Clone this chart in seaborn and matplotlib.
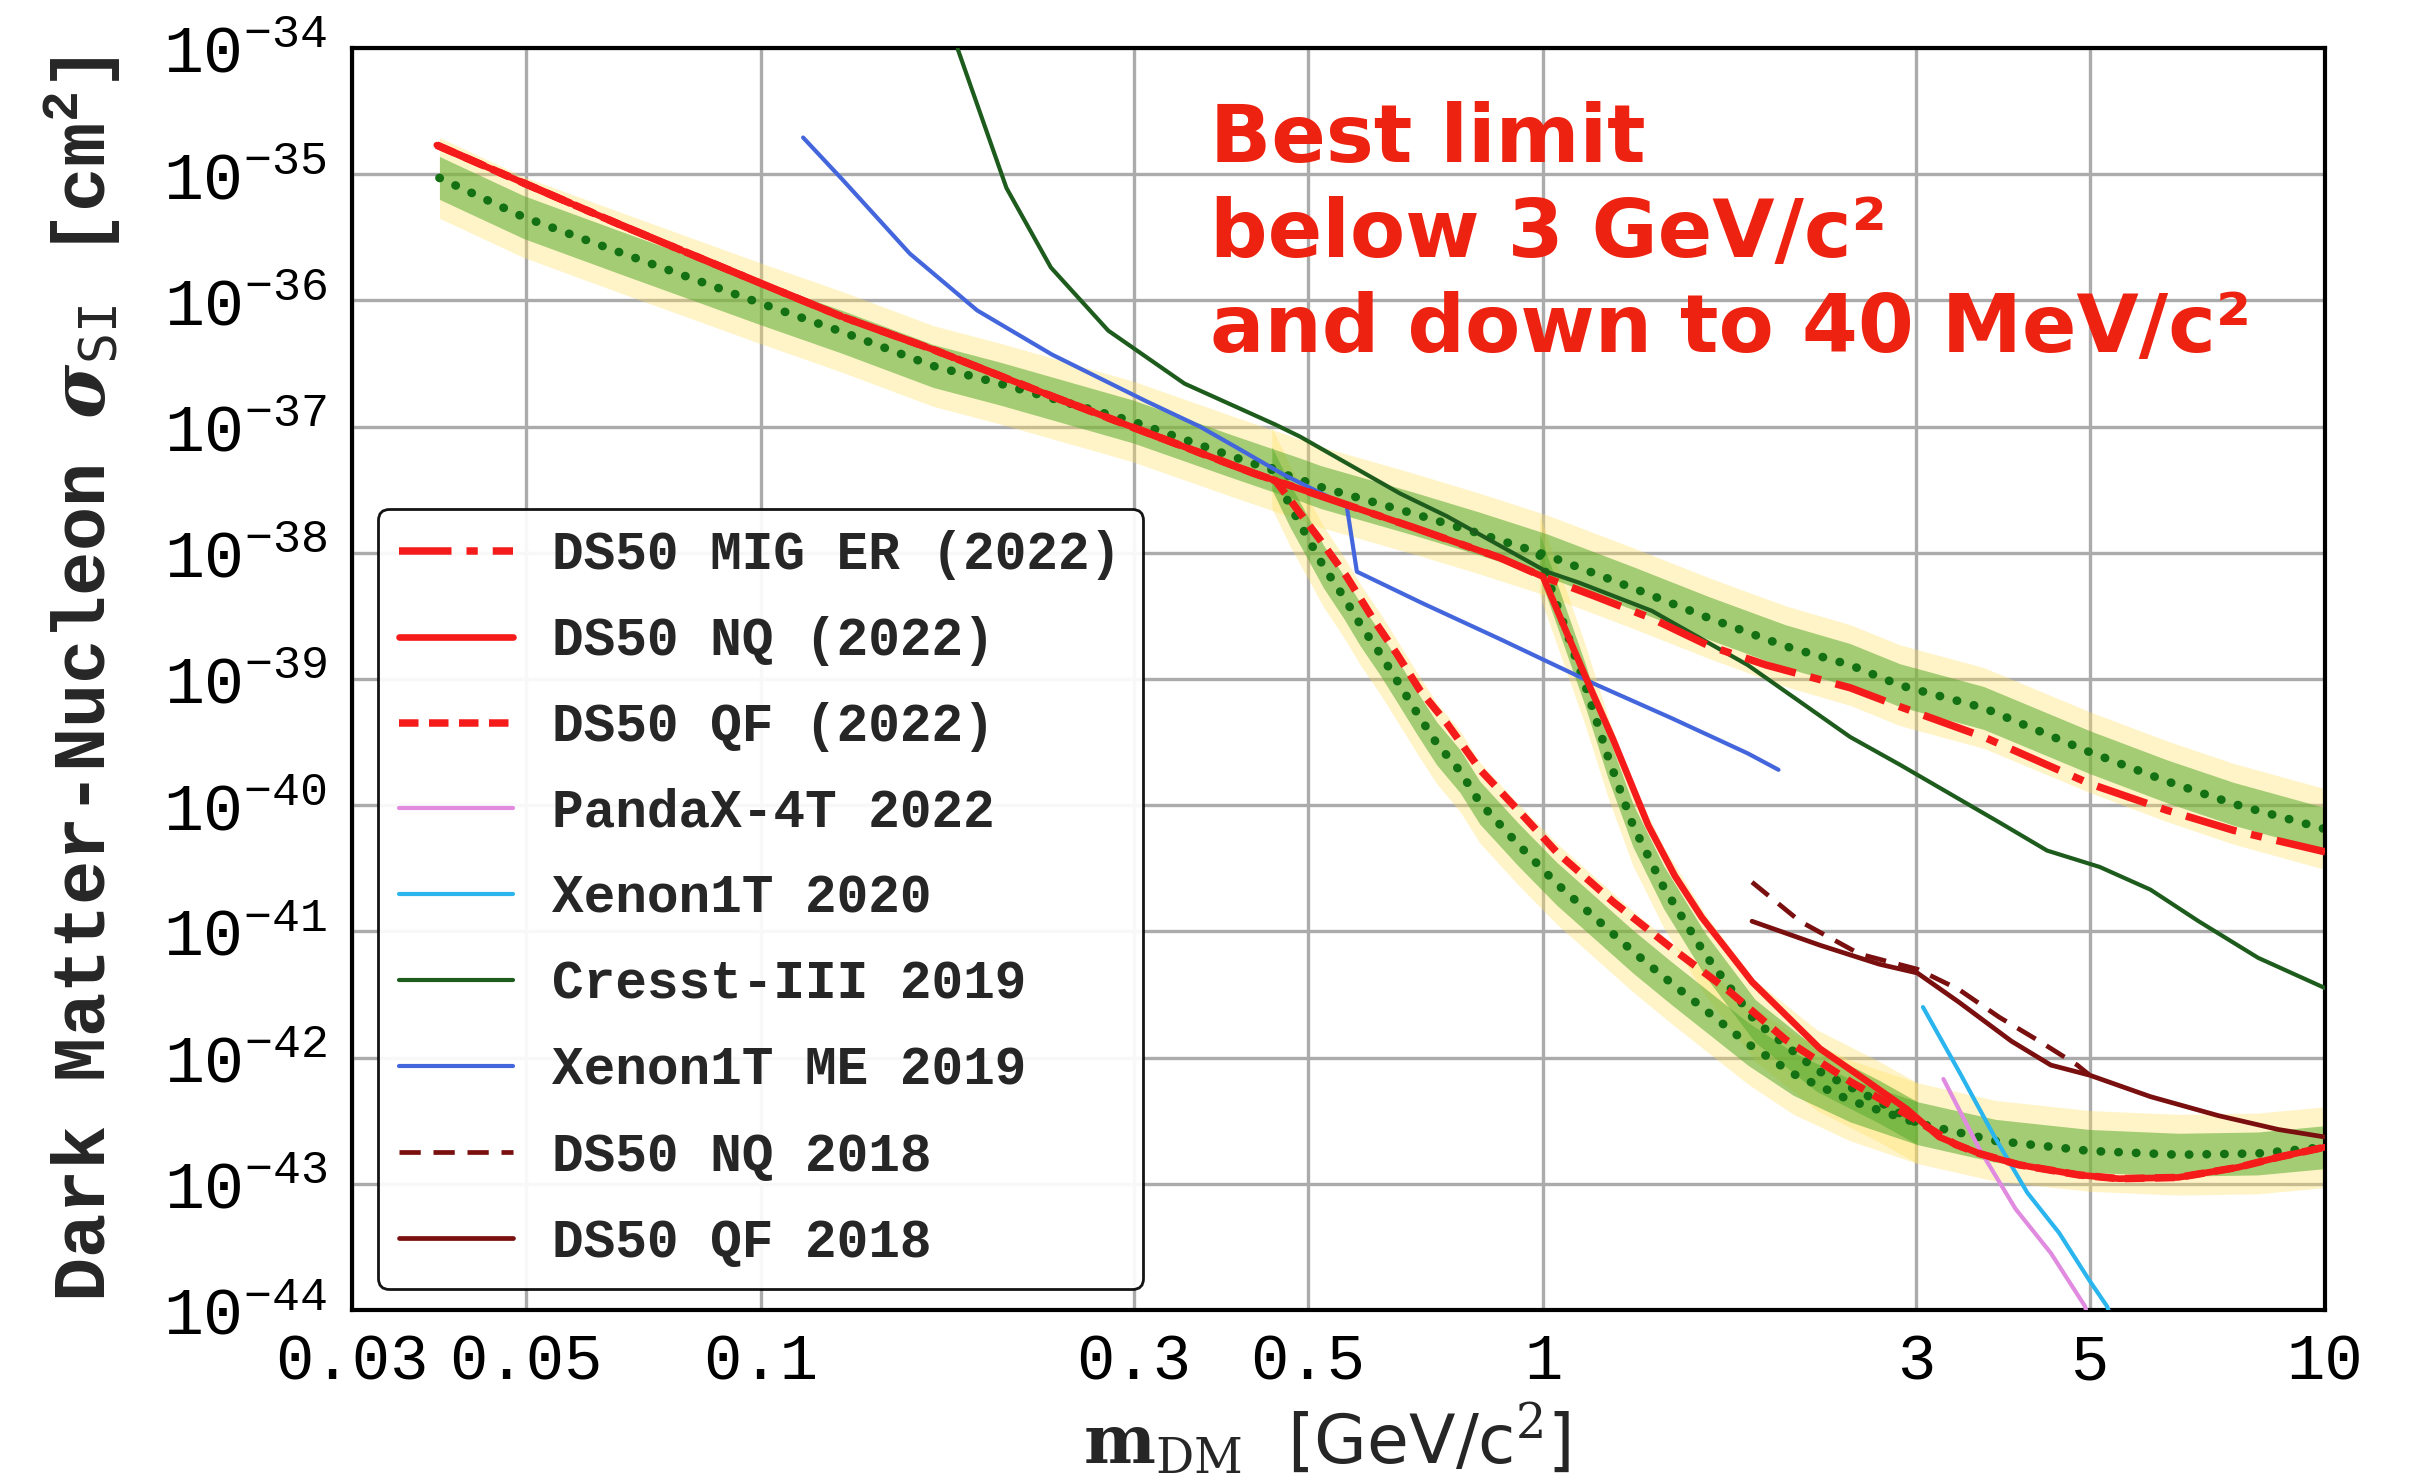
import numpy as np
import matplotlib
matplotlib.use("Agg")
from matplotlib import pyplot as plt
from matplotlib import ticker
import seaborn as sns

# masses in GeV/c^2, cross sections as log10(sigma / cm^2)

# DS50 2022 observed limits
er_mass = [0.0385, 0.0497, 0.066, 0.0995, 0.127, 0.166, 0.2355, 0.30, 0.4266, 0.561, 0.683, 0.881, 1.0,
           1.16, 1.377, 1.633, 1.93, 2.47, 2.86, 3.66, 5.0, 6.27, 7.64, 10.0]
er_logxs = [-34.77, -35.07, -35.40, -35.86, -36.13, -36.39, -36.76, -37.01, -37.37, -37.62, -37.80, -38.04, -38.19,
            -38.34, -38.52, -38.74, -38.89, -39.07, -39.22, -39.46, -39.83, -40.04, -40.20, -40.37]

nq_mass = [0.0385, 0.0497, 0.066, 0.0995, 0.127, 0.166, 0.2355, 0.30, 0.4266, 0.561, 0.683, 0.881, 1.0,
           1.063, 1.138, 1.231, 1.363, 1.474, 1.596, 1.85, 2.26, 2.60, 2.92, 3.21, 3.61, 4.06, 4.84, 5.45,
           6.49, 7.74, 8.71, 10.0]
nq_logxs = [-34.77, -35.07, -35.40, -35.86, -36.13, -36.39, -36.76, -37.01, -37.37, -37.62, -37.80, -38.04, -38.19,
            -38.58, -39.01, -39.49, -40.16, -40.56, -40.89, -41.40, -41.93, -42.19, -42.41, -42.63, -42.76, -42.85,
            -42.93, -42.96, -42.95, -42.87, -42.79, -42.71]

qf_mass = [0.0385, 0.0497, 0.066, 0.0995, 0.127, 0.166, 0.2355, 0.30, 0.4266, 0.455, 0.48, 0.519, 0.561, 0.607,
           0.650, 0.696, 0.753, 0.831, 0.929, 1.04, 1.231, 1.458, 1.726, 2.044, 2.47, 3.01, 3.37, 3.61, 4.06,
           4.84, 5.45, 6.49, 7.74, 8.71, 10.0]
qf_logxs = [-34.77, -35.07, -35.40, -35.86, -36.13, -36.39, -36.76, -37.01, -37.37, -37.43, -37.62, -37.90, -38.19,
            -38.53, -38.80, -39.09, -39.35, -39.72, -40.04, -40.37, -40.77, -41.13, -41.47, -41.86, -42.19, -42.50,
            -42.69, -42.76, -42.85, -42.93, -42.96, -42.95, -42.87, -42.79, -42.71]

# DS50 2022 expected sensitivities (median)
er_med_mass = [0.0388, 0.0497, 0.066, 0.0995, 0.127, 0.166, 0.2022, 0.299, 0.402, 0.489, 0.52, 0.683, 0.831,
               1.011, 1.303, 1.633, 2.04, 2.47, 2.86, 3.66, 5.0, 6.27, 7.64, 10.0]
er_med_logxs = [-35.03, -35.34, -35.62, -36.02, -36.25, -36.52, -36.66, -36.96, -37.24, -37.42, -37.48, -37.69,
                -37.85, -38.02, -38.28, -38.52, -38.74, -38.89, -39.05, -39.23, -39.58, -39.81, -39.99, -40.19]

nq_med_mass = [0.99, 1.016, 1.131, 1.211, 1.303, 1.426, 1.614, 1.867, 2.24, 2.69, 3.01]
nq_med_logxs = [-38.02, -38.22, -39.04, -39.62, -40.16, -40.65, -41.19, -41.71, -42.10, -42.35, -42.52]

qf_med_mass = [0.45, 0.475, 0.499, 0.524, 0.556, 0.584, 0.619, 0.653, 0.690, 0.731, 0.783, 0.830, 0.929, 1.04,
               1.164, 1.303, 1.459, 1.633, 1.827, 2.09, 2.47, 3.01, 3.79, 5.0, 6.49, 8.2, 10.0]
qf_med_logxs = [-37.33, -37.63, -37.87, -38.11, -38.35, -38.57, -38.80, -39.03, -39.27, -39.51, -39.73, -39.98,
                -40.31, -40.62, -40.89, -41.16, -41.41, -41.65, -41.89, -42.13, -42.34, -42.52, -42.66, -42.74,
                -42.77, -42.76, -42.71]

# half widths of the 1 sigma / 2 sigma bands (decades)
one_sigma_dex = 0.17
two_sigma_dex = 0.32

# other experiments
pandax_mass = [3.25, 3.61, 4.02, 4.46, 4.93, 4.97]
pandax_logxs = [-42.17, -42.72, -43.20, -43.55, -43.97, -44.05]

xenon2020_mass = [3.06, 3.41, 3.78, 4.16, 4.57, 5.0, 5.26, 5.32]
xenon2020_logxs = [-41.60, -42.12, -42.63, -43.07, -43.39, -43.77, -43.97, -44.05]

cresst_mass = [0.1785, 0.206, 0.2348, 0.278, 0.348, 0.453, 0.489, 0.656, 0.753, 1.011, 1.115, 1.377, 1.827,
               2.47, 2.86, 3.84, 4.41, 5.15, 5.98, 6.89, 8.21, 10.0]
cresst_logxs = [-34.01, -35.11, -35.74, -36.24, -36.66, -36.98, -37.08, -37.53, -37.71, -38.15, -38.24, -38.46,
                -38.89, -39.46, -39.68, -40.14, -40.36, -40.49, -40.67, -40.92, -41.21, -41.45]

xenon_me_mass = [0.1132, 0.1274, 0.155, 0.189, 0.2356, 0.311, 0.364, 0.412, 0.4656, 0.561, 0.578, 0.701, 0.878,
                 1.164, 1.459, 1.827, 2.0]
xenon_me_logxs = [-34.71, -35.05, -35.63, -36.08, -36.43, -36.80, -37.00, -37.19, -37.38, -37.63, -38.15, -38.40,
                  -38.68, -39.04, -39.31, -39.59, -39.72]

ds50_nq18_mass = [1.85, 2.13, 2.54, 3.01, 3.40, 3.83, 4.31, 4.82, 5.0]
ds50_nq18_logxs = [-40.61, -40.92, -41.18, -41.30, -41.46, -41.68, -41.87, -42.06, -42.14]

ds50_qf18_mass = [1.85, 2.26, 2.69, 3.01, 3.40, 3.97, 4.46, 5.0, 5.98, 7.30, 8.71, 10.0]
ds50_qf18_logxs = [-40.92, -41.11, -41.26, -41.33, -41.56, -41.87, -42.06, -42.14, -42.31, -42.46, -42.57, -42.63]

x_ticks = [0.03, 0.05, 0.1, 0.3, 0.5, 1, 3, 5, 10]

RED = "#f51b1b"
MAROON = "#7a0f0f"
BAND_GREEN = "#5aac30"
BAND_YELLOW = "#ffe060"
MEDIAN_GREEN = "#137013"


def draw(ax, mass, logxs, **kws):
    sns.lineplot(x=np.array(mass), y=10.0 ** np.array(logxs), ax=ax, sort=False,
                 estimator=None, legend=False, **kws)


def band(ax, mass, logxs):
    m = np.array(mass)
    s = np.array(logxs)
    ax.fill_between(m, 10.0 ** (s - two_sigma_dex), 10.0 ** (s + two_sigma_dex),
                    color=BAND_YELLOW, alpha=0.35, lw=0, zorder=1)
    ax.fill_between(m, 10.0 ** (s - one_sigma_dex), 10.0 ** (s + one_sigma_dex),
                    color=BAND_GREEN, alpha=0.55, lw=0, zorder=1.5)
    draw(ax, mass, logxs, color=MEDIAN_GREEN, lw=3.1, linestyle=(0, (0.05, 2.0)),
         dash_capstyle="round", zorder=2)


sns.set_theme(style="whitegrid")
plt.rcParams["font.family"] = ["Liberation Mono", "DejaVu Sans"]
plt.rcParams["axes.unicode_minus"] = True

fig = plt.figure(figsize=(12.09, 7.375), dpi=200)
ax = fig.add_axes([0.1456, 0.1119, 0.8160, 0.8556])
ax.set_facecolor("white")

band(ax, er_med_mass, er_med_logxs)
band(ax, qf_med_mass, qf_med_logxs)
band(ax, nq_med_mass, nq_med_logxs)

draw(ax, pandax_mass, pandax_logxs, color="#e08ae0", lw=1.5, label="PandaX-4T 2022", zorder=3)
draw(ax, xenon2020_mass, xenon2020_logxs, color="#2ab5ef", lw=1.5, label="Xenon1T 2020", zorder=3)
draw(ax, cresst_mass, cresst_logxs, color="#1e5c1e", lw=1.5, label="Cresst-III 2019", zorder=3)
draw(ax, xenon_me_mass, xenon_me_logxs, color="#4466dd", lw=1.5, label="Xenon1T ME 2019", zorder=3)
draw(ax, ds50_nq18_mass, ds50_nq18_logxs, color=MAROON, lw=1.7, linestyle=(0, (4.5, 2.7)),
     label="DS50 NQ 2018", zorder=3)
draw(ax, ds50_qf18_mass, ds50_qf18_logxs, color=MAROON, lw=1.7, label="DS50 QF 2018", zorder=3)

draw(ax, er_mass, er_logxs, color=RED, lw=2.7, linestyle=(0, (7, 2, 1.5, 2)),
     label="DS50 MIG ER (2022)", zorder=4)
draw(ax, qf_mass, qf_logxs, color=RED, lw=2.7, linestyle=(0, (2.6, 1.4)),
     label="DS50 QF (2022)", zorder=4)
draw(ax, nq_mass, nq_logxs, color=RED, lw=2.4, label="DS50 NQ (2022)", zorder=5)

ax.set_xscale("log")
ax.set_yscale("log")
ax.set_xlim(0.03, 10)
ax.set_ylim(1e-44, 1e-34)

ax.xaxis.set_major_locator(ticker.FixedLocator(x_ticks))
ax.xaxis.set_major_formatter(ticker.FuncFormatter(lambda v, p: f"{v:g}"))
ax.xaxis.set_minor_locator(ticker.LogLocator(base=10, subs=np.arange(1, 10), numticks=20))
ax.xaxis.set_minor_formatter(ticker.NullFormatter())
ax.yaxis.set_major_locator(ticker.FixedLocator(10.0 ** np.arange(-44, -33)))
ax.yaxis.set_major_formatter(ticker.LogFormatterSciNotation())
ax.yaxis.set_minor_locator(ticker.LogLocator(base=10, subs=np.arange(2, 10), numticks=20))
ax.yaxis.set_minor_formatter(ticker.NullFormatter())

ax.tick_params(which="both", direction="in", top=False, right=False, colors="black",
               labelcolor="black")
ax.tick_params(which="major", length=10, width=1.5, labelsize=24)
ax.tick_params(which="minor", length=4.5, width=1.2)
ax.tick_params(axis="y", which="major", pad=9)
ax.tick_params(axis="x", which="major", pad=8, labelsize=23)

ax.grid(True, which="major", color="#ababab", lw=1.2)
ax.grid(False, which="minor")
ax.set_axisbelow(True)
for side in ax.spines.values():
    side.set_color("black")
    side.set_linewidth(1.5)

ax.set_ylabel(r"Dark Matter-Nucleon $\mathbfit{\sigma}_{\mathtt{SI}}$ [cm$^{\mathdefault{2}}$]",
              fontsize=26.5, fontweight="bold", math_fontfamily="dejavuserif")
ax.yaxis.set_label_coords(-0.116, 0.5)
ax.set_xlabel(r"$\mathbf{m}_{\mathrm{DM}}$  [GeV/c$^{2}$]", fontsize=24.5,
              fontfamily="DejaVu Sans", math_fontfamily="dejavuserif")
ax.xaxis.set_label_coords(0.494, -0.071)

order = ["DS50 MIG ER (2022)", "DS50 NQ (2022)", "DS50 QF (2022)", "PandaX-4T 2022", "Xenon1T 2020",
         "Cresst-III 2019", "Xenon1T ME 2019", "DS50 NQ 2018", "DS50 QF 2018"]
lines = {ln.get_label(): ln for ln in ax.get_lines()}
leg = ax.legend([lines[k] for k in order], order, loc="upper left", bbox_to_anchor=(0.0132, 0.6347),
                borderaxespad=0, prop={"family": "Liberation Mono", "weight": "bold", "size": 19.0},
                handlelength=2.15, handletextpad=0.75, labelspacing=0.68, borderpad=0.4,
                fancybox=True, framealpha=0.92, edgecolor="black")
leg.get_frame().set_linewidth(1.0)
leg.set_zorder(10)

fig.text(0.5004, 0.9316, "Best limit\nbelow 3 GeV/c²\nand down to 40 MeV/c²", color="#ee2211",
         fontsize=29, fontweight="bold", fontfamily="DejaVu Sans", va="top", ha="left",
         linespacing=1.28)

fig.savefig("out.png", dpi=200)
